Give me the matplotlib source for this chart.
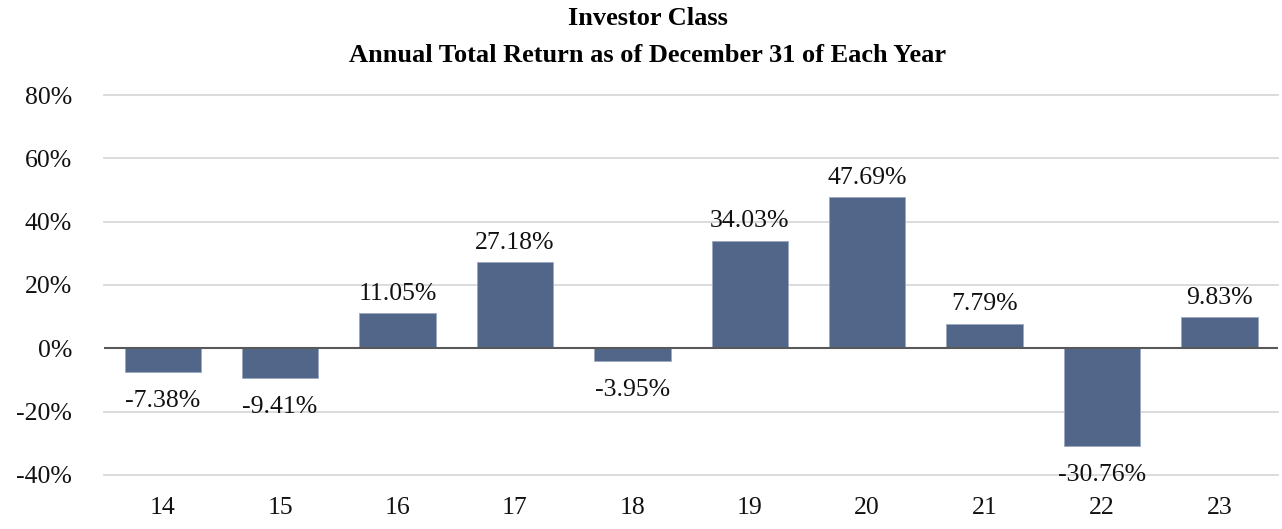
import matplotlib
matplotlib.use("Agg")
import matplotlib.pyplot as plt
from matplotlib.ticker import FuncFormatter

# values
years = ["14", "15", "16", "17", "18", "19", "20", "21", "22", "23"]
returns = [-7.38, -9.41, 11.05, 27.18, -3.95, 34.03, 47.69, 7.79, -30.76, 9.83]
yticks = [-40, -20, 0, 20, 40, 60, 80]

plt.rcParams['font.family'] = ['Liberation Serif', 'DejaVu Serif']

fig = plt.figure(figsize=(12.82, 5.29), dpi=100)
ax = fig.add_axes([0.0811, 0.1021, 0.9159, 0.7183])

x = list(range(len(years)))
bars = ax.bar(x, returns, width=0.65, color='#526689', edgecolor='#9aa8bf', linewidth=0.6, zorder=3)

for xi, v in zip(x, returns):
    off = 14 if v >= 0 else -21
    ax.annotate(f"{v:.2f}%", (xi, v), xytext=(0, off), textcoords='offset points',
                ha='center', va='center', fontsize=18.5, color='#111111', zorder=4)

ax.set_xlim(-0.5, len(years) - 0.5)
ax.set_ylim(-40, 80)
ax.set_yticks(yticks)
ax.yaxis.set_major_formatter(FuncFormatter(lambda v, p: f"{v:.0f}%"))
ax.set_xticks(x)
ax.set_xticklabels(years)
ax.tick_params(axis='both', length=0, labelsize=18.5, colors='#111111')
ax.tick_params(axis='x', pad=16)
ax.tick_params(axis='y', pad=23)
for lab in ax.get_yticklabels():
    lab.set_horizontalalignment('right')

for t in yticks:
    if t != 0:
        ax.axhline(t, color='#d9d9d9', linewidth=1.3, zorder=1, clip_on=False)
ax.axhline(0, color='#595959', linewidth=1.5, zorder=5)

for s in ax.spines.values():
    s.set_visible(False)

fig.text(0.5055, 0.965, "Investor Class", ha='center', va='center',
         fontsize=19, fontweight='bold')
fig.text(0.5055, 0.895, "Annual Total Return as of December 31 of Each Year", ha='center', va='center',
         fontsize=19, fontweight='bold')

fig.savefig("out.png", dpi=100)
